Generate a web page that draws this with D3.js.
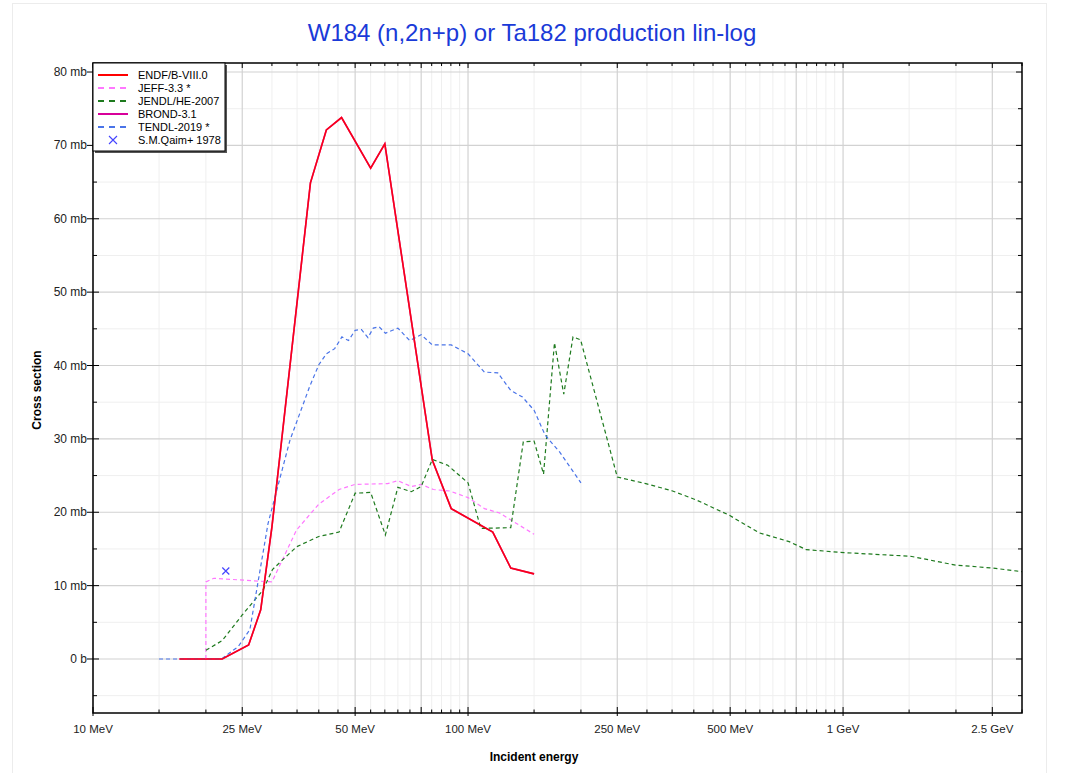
<!DOCTYPE html>
<html>
<head>
<meta charset="utf-8">
<script src="https://cdn.jsdelivr.net/npm/d3@7"></script>
<style>
  html, body { margin: 0; padding: 0; background: #fff; }
  svg { display: block; font-family: "Liberation Sans", Arial, sans-serif; }
</style>
</head>
<body>
<svg id="chart" width="1071" height="773"></svg>
<script>
// ---------------- data ----------------
const titleText = "W184 (n,2n+p) or Ta182 production lin-log";
const xLabel = "Incident energy";
const yLabel = "Cross section";

// energies in MeV, cross sections in mb
const endfE  = [17, 22.1, 26.0, 28.0, 30.0, 38.0, 41.9, 46.0, 55.0, 60.0, 80.3, 90.2, 116.4, 130, 150];
const endfXS = [0, 0, 1.9, 6.7, 18.0, 64.9, 72.1, 73.8, 66.9, 70.2, 27.1, 20.5, 17.3, 12.4, 11.6];

const bronE  = [17, 22.1, 26.0, 28.0, 30.0, 38.0, 41.9, 46.0, 55.0, 60.0, 80.3, 90.2, 116.4, 130, 150];
const bronXS = [0, 0, 1.9, 6.7, 18.0, 64.9, 72.1, 73.8, 66.9, 70.2, 27.1, 20.5, 17.3, 12.4, 11.6];

const jeffE  = [20, 20, 21.0, 30.0, 34.9, 40.0, 45.3, 50.0, 61.0, 65.0, 70.6, 75.0, 80.8, 89.3, 100, 110.6, 121.3, 150];
const jeffXS = [0, 10.5, 11.0, 10.5, 17.6, 21.1, 23.1, 23.8, 23.9, 24.3, 23.5, 23.8, 23.1, 22.9, 22.0, 20.5, 19.9, 17.0];

const jendlE  = [20, 22.1, 25.0, 28.4, 30.1, 34.9, 40.0, 45.3, 50.0, 55.0, 60.2, 65.0, 70.6, 75.0, 80.3, 88.3, 100, 108.2, 130, 140.4, 150, 159, 170, 180, 190.5, 199.6, 250, 298, 351, 405, 497, 597, 718, 798, 1006, 1514, 1995, 2500, 3000];
const jendlXS = [1.2, 2.5, 6.0, 9.4, 12.2, 15.3, 16.7, 17.3, 22.6, 22.7, 16.9, 23.4, 22.8, 23.5, 27.2, 26.4, 24.0, 17.8, 17.9, 29.6, 29.7, 25.2, 43.1, 36.1, 43.9, 43.5, 24.8, 23.9, 22.9, 21.7, 19.6, 17.2, 16.0, 14.9, 14.5, 14.0, 12.8, 12.4, 11.9];

const tendlE  = [15, 22, 24.4, 26.2, 29.3, 33.5, 37.8, 40, 41.9, 44.1, 46.1, 48, 50, 52, 54.1, 55.9, 57.9, 60.2, 65, 69.9, 75, 80.3, 90.2, 100, 110.6, 120, 130, 139.7, 150, 160.6, 175.6, 200];
const tendlXS = [0, 0, 1.7, 4.0, 18.5, 29.8, 37.1, 40.1, 41.6, 42.3, 43.9, 43.4, 44.8, 44.9, 43.8, 45.1, 45.3, 44.4, 45.1, 43.4, 44.2, 42.8, 42.8, 41.6, 39.1, 39.0, 36.6, 35.7, 33.9, 30.5, 28.2, 24.0];

const qaimE  = [22.6];
const qaimXS = [12.0];

const xTickValues = [10, 25, 50, 100, 250, 500, 1000, 2500];
const xTickLabels = ["10 MeV", "25 MeV", "50 MeV", "100 MeV", "250 MeV", "500 MeV", "1 GeV", "2.5 GeV"];
const xMidTicks   = [75, 750];
const xMinorTicks = [15, 20, 30, 35, 40, 45, 55, 60, 65, 70, 80, 85, 90, 95,
                     150, 200, 300, 350, 400, 450, 550, 600, 650, 700, 800, 850, 900, 950,
                     1500, 2000, 3000];
const yTickValues = [0, 10, 20, 30, 40, 50, 60, 70, 80];
const yTickLabels = ["0 b", "10 mb", "20 mb", "30 mb", "40 mb", "50 mb", "60 mb", "70 mb", "80 mb"];
const yMinorTicks = [-5, 5, 15, 25, 35, 45, 55, 65, 75];

// ---------------- layout ----------------
const svg = d3.select("#chart");
const L = 93, R = 1022, T = 63, B = 713;

const x = d3.scaleLog().domain([10, 3000]).range([L, R]);
const y = d3.scaleLinear().domain([-7.36, 81.23]).range([B, T]);

// outer faint border
svg.append("rect").attr("x", 12.5).attr("y", 3.5).attr("width", 1034).attr("height", 775)
  .attr("fill", "none").attr("stroke", "#ececec");

// grid
const grid = svg.append("g");
grid.selectAll(".vmin").data(xMinorTicks).join("line")
  .attr("x1", d => x(d)).attr("x2", d => x(d)).attr("y1", T).attr("y2", B)
  .attr("stroke", "#efefef").attr("stroke-width", 1);
grid.selectAll(".hmin").data(yMinorTicks).join("line")
  .attr("x1", L).attr("x2", R).attr("y1", d => y(d)).attr("y2", d => y(d))
  .attr("stroke", "#efefef").attr("stroke-width", 1);
grid.selectAll(".vmaj").data(xTickValues.concat(xMidTicks)).join("line")
  .attr("x1", d => x(d)).attr("x2", d => x(d)).attr("y1", T).attr("y2", B)
  .attr("stroke", "#d2d2d2").attr("stroke-width", 1.2);
grid.selectAll(".hmaj").data(yTickValues).join("line")
  .attr("x1", L).attr("x2", R).attr("y1", d => y(d)).attr("y2", d => y(d))
  .attr("stroke", "#d2d2d2").attr("stroke-width", 1.2);

// curves
const line = d3.line().x(d => x(d[0])).y(d => y(d[1]));
const zip = (a, b) => a.map((v, i) => [v, b[i]]);

const series = [
  { name: "ENDF/B-VIII.0", e: endfE, v: endfXS, color: "#ff0000", dash: null },
  { name: "JEFF-3.3 *", e: jeffE, v: jeffXS, color: "#ff77ff", dash: "4,3" },
  { name: "JENDL/HE-2007", e: jendlE, v: jendlXS, color: "#1e7a1e", dash: "4,3" },
  { name: "BROND-3.1", e: bronE, v: bronXS, color: "#d8009a", dash: null },
  { name: "TENDL-2019 *", e: tendlE, v: tendlXS, color: "#4a74e8", dash: "4,3" }
];

const curves = svg.append("g");
// draw order: BROND under ENDF
const drawOrder = [3, 1, 2, 4, 0];
drawOrder.forEach(i => {
  const s = series[i];
  curves.append("path")
    .attr("d", line(zip(s.e, s.v)))
    .attr("fill", "none")
    .attr("stroke", s.color)
    .attr("stroke-width", s.dash ? 1.2 : 1.6)
    .attr("stroke-opacity", i === 0 ? 0.85 : 1)
    .attr("stroke-dasharray", s.dash);
});

// experimental point
const mk = 3.5;
svg.append("g").selectAll("path").data(zip(qaimE, qaimXS)).join("path")
  .attr("d", d => {
    const cx = x(d[0]), cy = y(d[1]);
    return `M${cx - mk},${cy - mk}L${cx + mk},${cy + mk}M${cx - mk},${cy + mk}L${cx + mk},${cy - mk}`;
  })
  .attr("stroke", "#4444ff").attr("stroke-width", 1.2).attr("fill", "none");

// frame
svg.append("rect").attr("x", L).attr("y", T).attr("width", R - L).attr("height", B - T)
  .attr("fill", "none").attr("stroke", "#000").attr("stroke-width", 1.5);

// x ticks
const ax = svg.append("g").attr("stroke", "#000").attr("stroke-width", 1);
ax.selectAll(".xt").data(xTickValues).join("line")
  .attr("x1", d => x(d)).attr("x2", d => x(d)).attr("y1", B + 3).attr("y2", B - 6);
ax.selectAll(".xm").data(xMidTicks).join("line")
  .attr("x1", d => x(d)).attr("x2", d => x(d)).attr("y1", B + 1).attr("y2", B - 6);
ax.selectAll(".xn").data(xMinorTicks).join("line")
  .attr("x1", d => x(d)).attr("x2", d => x(d)).attr("y1", B).attr("y2", B - 3.5);
// top ticks
ax.selectAll(".xtt").data(xTickValues.concat(xMidTicks)).join("line")
  .attr("x1", d => x(d)).attr("x2", d => x(d)).attr("y1", T).attr("y2", T + 5);
ax.selectAll(".xtn").data(xMinorTicks).join("line")
  .attr("x1", d => x(d)).attr("x2", d => x(d)).attr("y1", T).attr("y2", T + 3);

// y ticks
ax.selectAll(".yt").data(yTickValues).join("line")
  .attr("x1", L - 6).attr("x2", L + 6).attr("y1", d => y(d)).attr("y2", d => y(d));
ax.selectAll(".yn").data(yMinorTicks).join("line")
  .attr("x1", L).attr("x2", L + 4).attr("y1", d => y(d)).attr("y2", d => y(d));
ax.selectAll(".ytr").data(yTickValues).join("line")
  .attr("x1", R - 6).attr("x2", R).attr("y1", d => y(d)).attr("y2", d => y(d));
ax.selectAll(".ynr").data(yMinorTicks).join("line")
  .attr("x1", R - 4).attr("x2", R).attr("y1", d => y(d)).attr("y2", d => y(d));

// tick labels
svg.append("g").selectAll("text").data(xTickValues).join("text")
  .attr("x", d => x(d)).attr("y", 733)
  .attr("text-anchor", "middle").attr("font-size", 11.5).attr("fill", "#222")
  .text((d, i) => xTickLabels[i]);
svg.append("g").selectAll("text").data(yTickValues).join("text")
  .attr("x", 87).attr("y", d => y(d) + 4)
  .attr("text-anchor", "end").attr("font-size", 12).attr("fill", "#222")
  .text((d, i) => yTickLabels[i]);

// axis titles
svg.append("text").attr("x", 534).attr("y", 761).attr("text-anchor", "middle")
  .attr("font-size", 12).attr("font-weight", "bold").attr("fill", "#000").text(xLabel);
svg.append("text").attr("transform", "translate(41,390) rotate(-90)").attr("text-anchor", "middle")
  .attr("font-size", 12).attr("font-weight", "bold").attr("fill", "#000").text(yLabel);

// title
svg.append("text").attr("x", 532).attr("y", 41).attr("text-anchor", "middle")
  .attr("font-size", 24).attr("fill", "#1a3ad8").text(titleText);

// legend
const lg = svg.append("g");
const lx = 93, ly = 63, lw = 132, lh = 88;
lg.append("rect").attr("x", lx + 2).attr("y", ly + 2).attr("width", lw).attr("height", lh).attr("fill", "#555");
lg.append("rect").attr("x", lx).attr("y", ly).attr("width", lw).attr("height", lh)
  .attr("fill", "#fff").attr("stroke", "#000").attr("stroke-width", 1);
const rowY = i => 75 + i * 13;
series.forEach((s, i) => {
  lg.append("line").attr("x1", 98).attr("x2", 128).attr("y1", rowY(i)).attr("y2", rowY(i))
    .attr("stroke", s.color).attr("stroke-width", 2)
    .attr("stroke-dasharray", s.dash ? "6,5" : null);
  lg.append("text").attr("x", 138).attr("y", rowY(i) + 4).attr("font-size", 11).attr("fill", "#000").text(s.name);
});
{
  const cy = rowY(5), cx = 113, m = 4;
  lg.append("path").attr("d", `M${cx - m},${cy - m}L${cx + m},${cy + m}M${cx - m},${cy + m}L${cx + m},${cy - m}`)
    .attr("stroke", "#4444ff").attr("stroke-width", 1.1);
  lg.append("text").attr("x", 138).attr("y", cy + 4).attr("font-size", 11).attr("fill", "#000").text("S.M.Qaim+ 1978");
}
</script>
</body>
</html>
